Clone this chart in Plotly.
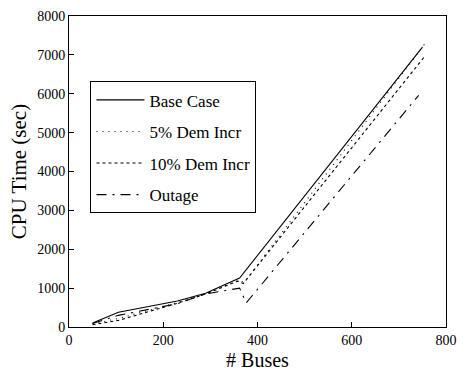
import plotly.graph_objects as go

# Data
base_x = [50, 105, 230, 290, 362, 750]
base_y = [100, 380, 670, 870, 1260, 7200]

dem5_x = [50, 105, 230, 290, 360, 372, 756]
dem5_y = [80, 220, 630, 860, 1200, 1150, 7300]

dem10_x = [50, 105, 230, 290, 358, 370, 756]
dem10_y = [60, 170, 610, 850, 1180, 1120, 6980]

outage_x = [50, 105, 230, 290, 362, 376, 742]
outage_y = [90, 300, 600, 850, 1000, 620, 5960]

x_ticks = [0, 200, 400, 600, 800]
y_ticks = [0, 1000, 2000, 3000, 4000, 5000, 6000, 7000, 8000]

series = [
    ("Base Case", base_x, base_y, "solid"),
    ("5% Dem Incr", dem5_x, dem5_y, "1px,5px"),
    ("10% Dem Incr", dem10_x, dem10_y, "3px,3px"),
    ("Outage", outage_x, outage_y, "10px,6px,2px,6px"),
]

fig = go.Figure()
for i, (name, xs, ys, dash) in enumerate(series):
    fig.add_trace(go.Scatter(
        x=xs, y=ys, mode="lines", name=name, legendgroup=f"g{i}",
        line=dict(color="black", width=1.1, dash=dash),
    ))

serif = "Liberation Serif, Times New Roman, serif"
fig.update_layout(
    width=466, height=377,
    margin=dict(l=69, r=9, t=15, b=49),
    paper_bgcolor="white", plot_bgcolor="white",
    font=dict(family=serif, color="black", size=14),
    showlegend=True,
    legend=dict(
        x=0.057, y=0.79, xanchor="left", yanchor="top",
        bordercolor="black", borderwidth=1, bgcolor="white",
        font=dict(family=serif, size=17, color="black"),
        tracegroupgap=6.5, itemwidth=48,
    ),
    xaxis=dict(
        range=[0, 800], tickvals=x_ticks, ticktext=[str(v) for v in x_ticks],
        ticks="inside", ticklen=5, tickcolor="black",
        showline=True, linecolor="black", linewidth=1, mirror=True,
        showgrid=False, zeroline=False, ticklabeloverflow="allow",
        title=dict(text="# Buses", font=dict(family=serif, size=20), standoff=6),
        tickfont=dict(family=serif, size=14),
    ),
    yaxis=dict(
        range=[0, 8000], tickvals=y_ticks, ticktext=[str(v) for v in y_ticks],
        ticks="inside", ticklen=5, tickcolor="black",
        showline=True, linecolor="black", linewidth=1, mirror=True,
        showgrid=False, zeroline=False,
        title=dict(text="CPU Time (sec)", font=dict(family=serif, size=21), standoff=4),
        tickfont=dict(family=serif, size=14),
    ),
)

fig.write_html("out.html")
